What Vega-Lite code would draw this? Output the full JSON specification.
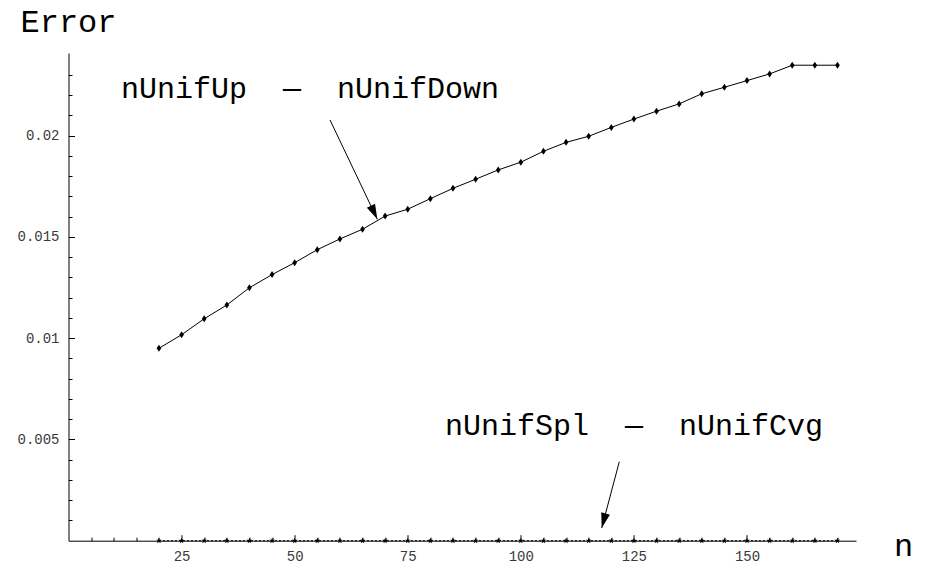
{
  "$schema": "https://vega.github.io/schema/vega-lite/v6.json",
  "width": 787.5,
  "height": 487.7,
  "autosize": {"type": "none"},
  "padding": {"left": 68.5, "top": 53, "right": 77, "bottom": 24.3},
  "background": "white",
  "config": {
    "view": {"stroke": null},
    "axis": {
      "grid": false,
      "domainColor": "black",
      "domainWidth": 1,
      "tickColor": "black",
      "tickWidth": 1,
      "labelFont": "Liberation Mono",
      "labelFontSize": 14,
      "labelColor": "#3a3a3a",
      "titleFont": "Liberation Mono",
      "titleFontSize": 32,
      "titleFontWeight": "normal",
      "titleColor": "black"
    }
  },
  "datasets": {
    "curves": [
      {"n": 20, "error": 0.00950, "series": "nUnifUp - nUnifDown"},
      {"n": 25, "error": 0.01017, "series": "nUnifUp - nUnifDown"},
      {"n": 30, "error": 0.01096, "series": "nUnifUp - nUnifDown"},
      {"n": 35, "error": 0.01164, "series": "nUnifUp - nUnifDown"},
      {"n": 40, "error": 0.01249, "series": "nUnifUp - nUnifDown"},
      {"n": 45, "error": 0.01314, "series": "nUnifUp - nUnifDown"},
      {"n": 50, "error": 0.01373, "series": "nUnifUp - nUnifDown"},
      {"n": 55, "error": 0.01437, "series": "nUnifUp - nUnifDown"},
      {"n": 60, "error": 0.01490, "series": "nUnifUp - nUnifDown"},
      {"n": 65, "error": 0.01538, "series": "nUnifUp - nUnifDown"},
      {"n": 70, "error": 0.01603, "series": "nUnifUp - nUnifDown"},
      {"n": 75, "error": 0.01637, "series": "nUnifUp - nUnifDown"},
      {"n": 80, "error": 0.01689, "series": "nUnifUp - nUnifDown"},
      {"n": 85, "error": 0.01740, "series": "nUnifUp - nUnifDown"},
      {"n": 90, "error": 0.01785, "series": "nUnifUp - nUnifDown"},
      {"n": 95, "error": 0.01831, "series": "nUnifUp - nUnifDown"},
      {"n": 100, "error": 0.01869, "series": "nUnifUp - nUnifDown"},
      {"n": 105, "error": 0.01923, "series": "nUnifUp - nUnifDown"},
      {"n": 110, "error": 0.01967, "series": "nUnifUp - nUnifDown"},
      {"n": 115, "error": 0.01997, "series": "nUnifUp - nUnifDown"},
      {"n": 120, "error": 0.02041, "series": "nUnifUp - nUnifDown"},
      {"n": 125, "error": 0.02082, "series": "nUnifUp - nUnifDown"},
      {"n": 130, "error": 0.02121, "series": "nUnifUp - nUnifDown"},
      {"n": 135, "error": 0.02157, "series": "nUnifUp - nUnifDown"},
      {"n": 140, "error": 0.02207, "series": "nUnifUp - nUnifDown"},
      {"n": 145, "error": 0.02239, "series": "nUnifUp - nUnifDown"},
      {"n": 150, "error": 0.02272, "series": "nUnifUp - nUnifDown"},
      {"n": 155, "error": 0.02305, "series": "nUnifUp - nUnifDown"},
      {"n": 160, "error": 0.02348, "series": "nUnifUp - nUnifDown"},
      {"n": 165, "error": 0.02348, "series": "nUnifUp - nUnifDown"},
      {"n": 170, "error": 0.02348, "series": "nUnifUp - nUnifDown"},
      {"n": 20, "error": 0, "series": "nUnifSpl - nUnifCvg"},
      {"n": 25, "error": 0, "series": "nUnifSpl - nUnifCvg"},
      {"n": 30, "error": 0, "series": "nUnifSpl - nUnifCvg"},
      {"n": 35, "error": 0, "series": "nUnifSpl - nUnifCvg"},
      {"n": 40, "error": 0, "series": "nUnifSpl - nUnifCvg"},
      {"n": 45, "error": 0, "series": "nUnifSpl - nUnifCvg"},
      {"n": 50, "error": 0, "series": "nUnifSpl - nUnifCvg"},
      {"n": 55, "error": 0, "series": "nUnifSpl - nUnifCvg"},
      {"n": 60, "error": 0, "series": "nUnifSpl - nUnifCvg"},
      {"n": 65, "error": 0, "series": "nUnifSpl - nUnifCvg"},
      {"n": 70, "error": 0, "series": "nUnifSpl - nUnifCvg"},
      {"n": 75, "error": 0, "series": "nUnifSpl - nUnifCvg"},
      {"n": 80, "error": 0, "series": "nUnifSpl - nUnifCvg"},
      {"n": 85, "error": 0, "series": "nUnifSpl - nUnifCvg"},
      {"n": 90, "error": 0, "series": "nUnifSpl - nUnifCvg"},
      {"n": 95, "error": 0, "series": "nUnifSpl - nUnifCvg"},
      {"n": 100, "error": 0, "series": "nUnifSpl - nUnifCvg"},
      {"n": 105, "error": 0, "series": "nUnifSpl - nUnifCvg"},
      {"n": 110, "error": 0, "series": "nUnifSpl - nUnifCvg"},
      {"n": 115, "error": 0, "series": "nUnifSpl - nUnifCvg"},
      {"n": 120, "error": 0, "series": "nUnifSpl - nUnifCvg"},
      {"n": 125, "error": 0, "series": "nUnifSpl - nUnifCvg"},
      {"n": 130, "error": 0, "series": "nUnifSpl - nUnifCvg"},
      {"n": 135, "error": 0, "series": "nUnifSpl - nUnifCvg"},
      {"n": 140, "error": 0, "series": "nUnifSpl - nUnifCvg"},
      {"n": 145, "error": 0, "series": "nUnifSpl - nUnifCvg"},
      {"n": 150, "error": 0, "series": "nUnifSpl - nUnifCvg"},
      {"n": 155, "error": 0, "series": "nUnifSpl - nUnifCvg"},
      {"n": 160, "error": 0, "series": "nUnifSpl - nUnifCvg"},
      {"n": 165, "error": 0, "series": "nUnifSpl - nUnifCvg"},
      {"n": 170, "error": 0, "series": "nUnifSpl - nUnifCvg"}
    ],
    "arrows": [
      {"arrow": "up", "end": 0, "x": 57.82, "y": 0.020774},
      {"arrow": "up", "end": 1, "x": 68.28, "y": 0.01587},
      {"arrow": "spl", "end": 0, "x": 121.77, "y": 0.0039},
      {"arrow": "spl", "end": 1, "x": 117.88, "y": 0.000626}
    ],
    "notes": [
      {"label": "nUnifUp \u00a0—\u00a0 nUnifDown", "x": 53.4, "y": 0.021876},
      {"label": "nUnifSpl \u00a0—\u00a0 nUnifCvg", "x": 125.0, "y": 0.005218}
    ]
  },
  "layer": [
    {
      "data": {"name": "curves"},
      "transform": [{"filter": "datum.series === 'nUnifUp - nUnifDown'"}],
      "mark": {"type": "line", "color": "black", "strokeWidth": 1},
      "encoding": {
        "x": {
          "field": "n", "type": "quantitative",
          "scale": {"domain": [0, 174.1], "nice": false, "zero": false},
          "axis": {
            "orient": "bottom",
            "values": [5,10,15,20,25,30,35,40,45,50,55,60,65,70,75,80,85,90,95,100,105,110,115,120,125,130,135,140,145,150,155,160,165,170],
            "tickCount": 200,
            "tickSize": {"condition": {"test": "datum.value % 25 === 0", "value": -6}, "value": -3.5},
            "labelExpr": "datum.value % 25 === 0 ? '' + datum.value : ''",
            "labelPadding": 14.5,
            "labelOverlap": false,
            "title": "n",
            "titleAngle": 0,
            "titleAlign": "center",
            "titleBaseline": "alphabetic",
            "titleX": 834.5,
            "titleY": 14.3
          }
        },
        "y": {
          "field": "error", "type": "quantitative",
          "scale": {"domain": [0, 0.024083], "nice": false, "zero": false},
          "axis": {
            "orient": "left",
            "values": [0.001,0.002,0.003,0.004,0.005,0.006,0.007,0.008,0.009,0.010,0.011,0.012,0.013,0.014,0.015,0.016,0.017,0.018,0.019,0.020,0.021,0.022,0.023],
            "tickCount": 200,
            "tickSize": {"condition": {"test": "round(datum.value*1000) % 5 === 0", "value": -6}, "value": -3.5},
            "labelExpr": "round(datum.value*1000) % 5 === 0 ? '' + (round(datum.value*1000)/1000) : ''",
            "labelPadding": 15.5,
            "labelOverlap": false,
            "title": "Error",
            "titleAngle": 0,
            "titleAlign": "left",
            "titleBaseline": "alphabetic",
            "titleX": -48.5,
            "titleY": -21.3
          }
        }
      }
    },
    {
      "data": {"name": "curves"},
      "transform": [{"filter": "datum.series === 'nUnifUp - nUnifDown'"}],
      "mark": {"type": "point", "shape": "M0,-1.2 L0.8,0 L0,1.2 L-0.8,0 Z", "filled": true, "color": "black", "opacity": 1, "size": 34},
      "encoding": {
        "x": {"field": "n", "type": "quantitative"},
        "y": {"field": "error", "type": "quantitative"}
      }
    },
    {
      "data": {"name": "curves"},
      "transform": [{"filter": "datum.series === 'nUnifSpl - nUnifCvg'"}],
      "mark": {"type": "line", "color": "black", "strokeWidth": 1, "strokeDash": [2, 2]},
      "encoding": {
        "x": {"field": "n", "type": "quantitative"},
        "y": {"field": "error", "type": "quantitative"}
      }
    },
    {
      "data": {"name": "curves"},
      "transform": [{"filter": "datum.series === 'nUnifSpl - nUnifCvg'"}],
      "mark": {"type": "point", "shape": "M0,-1 L0.235,-0.324 L0.951,-0.309 L0.38,0.124 L0.588,0.809 L0,0.4 L-0.588,0.809 L-0.38,0.124 L-0.951,-0.309 L-0.235,-0.324 Z", "filled": true, "color": "black", "opacity": 1, "size": 36},
      "encoding": {
        "x": {"field": "n", "type": "quantitative"},
        "y": {"field": "error", "type": "quantitative"}
      }
    },
    {
      "data": {"name": "notes"},
      "mark": {"type": "text", "font": "Liberation Mono", "fontSize": 30, "align": "center", "baseline": "alphabetic", "color": "black"},
      "encoding": {
        "x": {"field": "x", "type": "quantitative"},
        "y": {"field": "y", "type": "quantitative"},
        "text": {"field": "label"}
      }
    },
    {
      "data": {"name": "arrows"},
      "mark": {"type": "line", "color": "black", "strokeWidth": 1},
      "encoding": {
        "x": {"field": "x", "type": "quantitative"},
        "y": {"field": "y", "type": "quantitative"},
        "detail": {"field": "arrow"},
        "order": {"field": "end"}
      }
    },
    {
      "data": {"name": "arrows"},
      "transform": [{"filter": "datum.arrow === 'up' && datum.end === 1"}],
      "mark": {"type": "point", "shape": "M0,0 L-0.6,-2 L0.6,-2 Z", "filled": true, "color": "black", "opacity": 1, "size": 225, "angle": 334.8},
      "encoding": {
        "x": {"field": "x", "type": "quantitative"},
        "y": {"field": "y", "type": "quantitative"}
      }
    },
    {
      "data": {"name": "arrows"},
      "transform": [{"filter": "datum.arrow === 'spl' && datum.end === 1"}],
      "mark": {"type": "point", "shape": "M0,0 L-0.6,-2 L0.6,-2 Z", "filled": true, "color": "black", "opacity": 1, "size": 225, "angle": 14.9},
      "encoding": {
        "x": {"field": "x", "type": "quantitative"},
        "y": {"field": "y", "type": "quantitative"}
      }
    },
    {
      "mark": {"type": "rule", "color": "black", "strokeWidth": 1},
      "encoding": {
        "x": {"datum": -4.3, "type": "quantitative"},
        "x2": {"datum": 0},
        "y": {"datum": 0, "type": "quantitative"}
      }
    },
    {
      "mark": {"type": "rule", "color": "black", "strokeWidth": 1},
      "encoding": {
        "x": {"datum": 0, "type": "quantitative"},
        "y": {"datum": -0.00051, "type": "quantitative"},
        "y2": {"datum": 0}
      }
    }
  ]
}
